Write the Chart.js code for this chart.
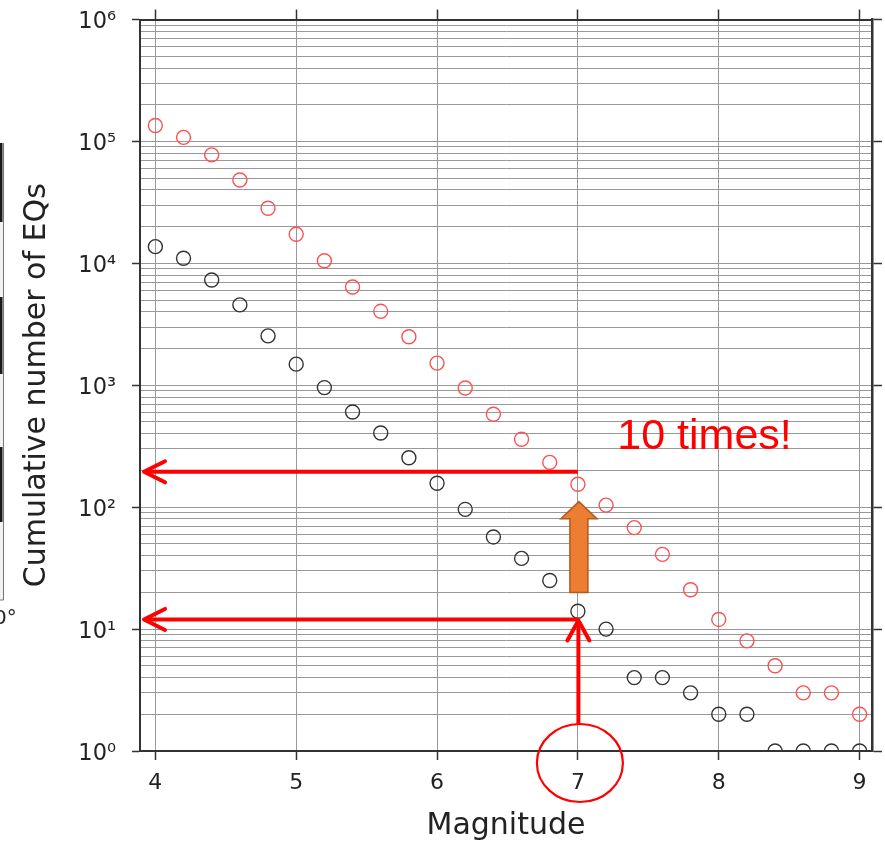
<!DOCTYPE html>
<html>
<head>
<meta charset="utf-8">
<script src="https://cdn.jsdelivr.net/npm/chart.js@4/dist/chart.umd.min.js"></script>
<style>
  html, body { margin: 0; padding: 0; background: #ffffff; }
  #wrap { width: 885px; height: 851px; position: relative; }
</style>
</head>
<body>
<div id="wrap"><canvas id="c"></canvas></div>
<script>
// ---- data ----
const magnitudes = [4.0, 4.2, 4.4, 4.6, 4.8, 5.0, 5.2, 5.4, 5.6, 5.8, 6.0, 6.2, 6.4, 6.6, 6.8, 7.0, 7.2, 7.4, 7.6, 7.8, 8.0, 8.2, 8.4, 8.6, 8.8, 9.0];
const countsRed   = [135000, 108000, 77500, 48300, 28300, 17300, 10500, 6400, 4040, 2500, 1520, 950, 578, 361, 233, 154, 104, 68, 41, 21, 12, 8, 5, 3, 3, 2];
const countsBlack = [13700, 11000, 7300, 4560, 2540, 1490, 957, 604, 406, 254, 157, 96, 57, 38, 25, 14, 10, 4, 4, 3, 2, 2, 1, 1, 1, 1];

const xTickValues = [4, 5, 6, 7, 8, 9];
const xTickLabels = ['4', '5', '6', '7', '8', '9'];
const yDecades    = [1, 10, 100, 1000, 10000, 100000, 1000000];
const yTickLabels = ['10⁰', '10¹', '10²', '10³', '10⁴', '10⁵', '10⁶'];
const yMinorMultipliers = [2, 3, 4, 5, 6, 7, 8, 9];

const xMin = 3.891, xMax = 9.088;
const yMin = 1, yMax = 1000000;

// annotation anchors (data units)
const arrowX = 7;
const arrowLevels = [195, 12];
const orangeFrom = 20, orangeTo = 111;
const noteText = '10 times!';
const notePos = { x: 7.28, y: 300 };

const FONT = '"DejaVu Sans", Verdana, sans-serif';

function toPoints(xs, ys) { return xs.map((v, i) => ({ x: v, y: ys[i] })); }

function yAllTicks() {
  const t = [];
  yDecades.forEach((d, i) => {
    t.push({ value: d, major: true });
    if (i < yDecades.length - 1) yMinorMultipliers.forEach(m => t.push({ value: d * m, major: false }));
  });
  return t;
}

function noPad(s) { s.paddingTop = 0; s.paddingBottom = 0; s.paddingLeft = 0; s.paddingRight = 0; }

const annot = {
  id: 'annot',
  afterDatasetsDraw(chart) {
    const { ctx, scales: { x, y }, chartArea } = chart;
    const red = '#ff0000';
    ctx.save();
    const x7 = x.getPixelForValue(arrowX);
    const tipX = chartArea.left + 4;

    // horizontal arrows
    ctx.strokeStyle = red; ctx.lineWidth = 4; ctx.lineJoin = 'round';
    arrowLevels.forEach(v => {
      const py = y.getPixelForValue(v);
      ctx.lineCap = 'butt';
      ctx.beginPath(); ctx.moveTo(x7, py); ctx.lineTo(tipX + 2, py); ctx.stroke();
      ctx.lineCap = 'round';
      ctx.beginPath(); ctx.moveTo(tipX + 21, py - 10.5); ctx.lineTo(tipX, py); ctx.lineTo(tipX + 21, py + 10.5); ctx.stroke();
    });

    // circle round the "7" tick label
    const cy = chartArea.bottom + 12;
    ctx.lineWidth = 2.2;
    ctx.beginPath(); ctx.ellipse(x7 + 2, cy, 43, 39, 0, 0, Math.PI * 2); ctx.stroke();

    // vertical arrow from circle up to the lower arrow level
    const vTip = y.getPixelForValue(arrowLevels[1]) + 1;
    ctx.lineWidth = 4; ctx.lineCap = 'butt';
    ctx.beginPath(); ctx.moveTo(x7 + 0.5, cy - 39); ctx.lineTo(x7 + 0.5, vTip + 2); ctx.stroke();
    ctx.lineCap = 'round';
    ctx.beginPath(); ctx.moveTo(x7 - 10.5, vTip + 20); ctx.lineTo(x7 + 0.5, vTip); ctx.lineTo(x7 + 11.5, vTip + 20); ctx.stroke();

    // orange block arrow
    const yb = y.getPixelForValue(orangeFrom);
    const yt = y.getPixelForValue(orangeTo);
    const yh = yt + 17;
    const cx = x7 + 1;
    ctx.beginPath();
    ctx.moveTo(cx - 9, yb); ctx.lineTo(cx + 9, yb); ctx.lineTo(cx + 9, yh); ctx.lineTo(cx + 18, yh);
    ctx.lineTo(cx, yt); ctx.lineTo(cx - 18, yh); ctx.lineTo(cx - 9, yh); ctx.closePath();
    ctx.fillStyle = '#ED7D31'; ctx.fill();
    ctx.strokeStyle = '#AE5A21'; ctx.lineWidth = 1.5; ctx.lineJoin = 'miter'; ctx.stroke();

    // note text
    ctx.fillStyle = red;
    ctx.font = '43px "Liberation Sans", Arial, sans-serif';
    ctx.textBaseline = 'alphabetic'; ctx.textAlign = 'left';
    ctx.fillText(noteText, x.getPixelForValue(notePos.x), y.getPixelForValue(notePos.y));
    ctx.restore();
  },
  afterDraw(chart) {
    // cropped neighbouring figure at the left edge
    const ctx = chart.ctx;
    ctx.save();
    ctx.fillStyle = '#f2f2f2'; ctx.fillRect(0, 143, 3, 457);
    ctx.fillStyle = '#1a1a1a';
    [[143, 222], [297, 374], [447, 522]].forEach(([a, b]) => ctx.fillRect(0, a, 2.5, b - a));
    ctx.strokeStyle = '#777'; ctx.lineWidth = 1;
    ctx.beginPath(); ctx.moveTo(3.5, 143); ctx.lineTo(3.5, 600); ctx.lineTo(0, 600); ctx.stroke();
    ctx.fillStyle = '#222'; ctx.font = '20px ' + FONT; ctx.textBaseline = 'alphabetic';
    ctx.fillText('0°', -6, 624);
    ctx.restore();
  }
};

new Chart(document.getElementById('c'), {
  type: 'scatter',
  data: {
    datasets: [
      { label: 'red', data: toPoints(magnitudes, countsRed), showLine: false, clip: 0,
        pointStyle: 'circle', pointRadius: 7, pointBorderWidth: 1.4,
        pointBorderColor: '#ff5050', pointBackgroundColor: 'rgba(0,0,0,0)' },
      { label: 'black', data: toPoints(magnitudes, countsBlack), showLine: false, clip: 0,
        pointStyle: 'circle', pointRadius: 7, pointBorderWidth: 1.4,
        pointBorderColor: '#333333', pointBackgroundColor: 'rgba(0,0,0,0)' }
    ]
  },
  options: {
    responsive: true, maintainAspectRatio: false, animation: false, events: [],
    layout: { padding: 0 },
    plugins: { legend: { display: false }, tooltip: { enabled: false } },
    scales: {
      x: {
        type: 'linear', position: 'bottom', min: xMin, max: xMax,
        afterBuildTicks: s => { s.ticks = xTickValues.map(v => ({ value: v })); },
        afterFit: s => { s.height = 100; noPad(s); },
        ticks: { autoSkip: false, maxRotation: 0, padding: 10, color: '#222',
                 font: { family: FONT, size: 22 },
                 callback: v => xTickLabels[xTickValues.indexOf(v)] ?? '' },
        grid: { color: '#999999', lineWidth: 1, tickLength: 9, tickColor: '#333', tickWidth: 1.5 },
        border: { color: '#333', width: 2 },
        title: { display: true, text: 'Magnitude', color: '#222',
                 font: { family: FONT, size: 30 }, padding: { top: 0, bottom: 7 } }
      },
      x2: {
        type: 'linear', position: 'top', min: xMin, max: xMax,
        afterBuildTicks: s => { s.ticks = xTickValues.map(v => ({ value: v })); },
        afterFit: s => { s.height = 19.5; noPad(s); },
        ticks: { display: false },
        grid: { drawOnChartArea: false, tickLength: 10, tickColor: '#333', tickWidth: 1.5 },
        border: { color: '#333', width: 2 }
      },
      y: {
        type: 'logarithmic', position: 'left', min: yMin, max: yMax,
        afterBuildTicks: s => { s.ticks = yAllTicks(); },
        afterFit: s => { s.width = 140; noPad(s); },
        ticks: { autoSkip: false, padding: 16, labelOffset: 3, color: '#222',
                 font: { family: FONT, size: 22.5 },
                 callback: v => { const i = yDecades.indexOf(v); return i >= 0 ? yTickLabels[i] : ''; } },
        grid: { color: '#999999', lineWidth: 1, tickLength: 8, tickWidth: 1.5,
                tickColor: c => (c.tick && yDecades.includes(c.tick.value)) ? '#333' : 'rgba(0,0,0,0)' },
        border: { color: '#333', width: 2 },
        title: { display: true, text: 'Cumulative number of EQs', color: '#222',
                 font: { family: FONT, size: 30 }, padding: { top: 19, bottom: 0 } }
      },
      y2: {
        type: 'logarithmic', position: 'right', min: yMin, max: yMax,
        afterBuildTicks: s => { s.ticks = yDecades.map(v => ({ value: v })); },
        afterFit: s => { s.width = 13; noPad(s); },
        ticks: { display: false },
        grid: { drawOnChartArea: false, tickLength: 10, tickColor: '#333', tickWidth: 1.5 },
        border: { color: '#333', width: 2.5 }
      }
    }
  },
  plugins: [annot]
});
</script>
</body>
</html>
